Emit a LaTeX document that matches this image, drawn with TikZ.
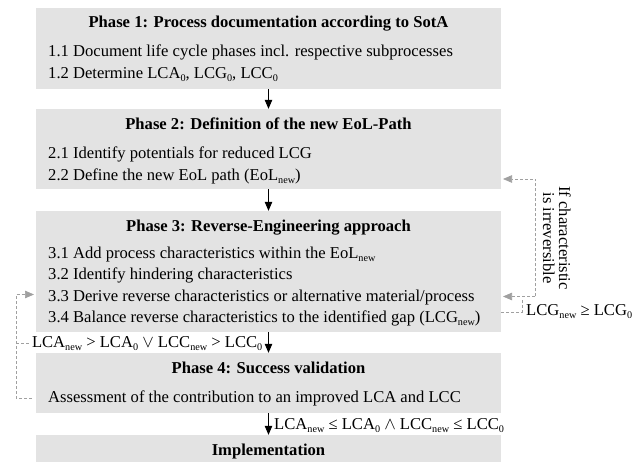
\documentclass[tikz,border=0pt]{standalone}
\usepackage{fontspec}
\setmainfont{Liberation Serif}
\usepackage{tikz}
\usetikzlibrary{arrows.meta}
\usepackage{xcolor}
\definecolor{phasegray}{RGB}{227,227,227}
\definecolor{backgray}{RGB}{160,160,160}
\newcommand{\diagfont}{\fontsize{16.6}{21.7}\selectfont}
\newcommand{\lowtext}[1]{\raisebox{-2.6pt}{\fontsize{10.2}{10.2}\selectfont #1}}
\newcommand{\sbn}{\lowtext{new}}
\newcommand{\sbz}{\lowtext{0}}

\begin{document}
\begin{tikzpicture}[
    x=1pt, y=-1pt,
    font=\diagfont,
    phasebox/.style={fill=phasegray, minimum width=465pt, minimum height=#1, inner sep=0pt},
    phasetitle/.style={anchor=base, inner sep=0pt, font=\diagfont\bfseries},
    task/.style={anchor=base west, inner sep=0pt},
    mainarrow/.style={-{Triangle[width=7.5pt,length=9pt]}, line width=0.8pt},
    backline/.style={backgray, dash pattern=on 3pt off 2pt, line width=0.7pt},
    backarrow/.style={backline, -{Triangle[width=7.5pt,length=9pt]}}
]
\useasboundingbox (0,0) rectangle (635,462);

\node[phasebox=81pt] (p1) at (268.5,48.5) {};
\node[phasebox=80pt] (p2) at (268.5,149) {};
\node[phasebox=121pt] (p3) at (268.5,271.5) {};
\node[phasebox=60pt] (p4) at (268.5,383) {};
\node[phasebox=27pt] (p5) at (268.5,448.5) {};

\node[phasetitle] (p1t) at (268.5,28) {Phase 1: Process documentation according to SotA};
\node[task] (t11) at (48,57) {1.1 Document life cycle phases incl. respective subprocesses};
\node[task] (t12) at (48,79) {1.2 Determine LCA\sbz, LCG\sbz, LCC\sbz};

\node[phasetitle] (p2t) at (268.5,129.5) {Phase 2: Definition of the new EoL-Path};
\node[task] (t21) at (48,159) {2.1 Identify potentials for reduced LCG};
\node[task] (t22) at (48,181) {2.2 Define the new EoL path (EoL\sbn)};

\node[phasetitle] (p3t) at (268.5,231.5) {Phase 3: Reverse-Engineering approach};
\node[task] (t31) at (48,258.5) {3.1 Add process characteristics within the EoL\sbn};
\node[task] (t32) at (48,280) {3.2 Identify hindering characteristics};
\node[task] (t33) at (48,301.5) {3.3 Derive reverse characteristics or alternative material/process};
\node[task] (t34) at (48,323) {3.4 Balance reverse characteristics to the identified gap (LCG\sbn)};

\node[phasetitle] (p4t) at (268.5,373.5) {Phase 4: Success validation};
\node[task] (t41) at (48,402.5) {Assessment of the contribution to an improved LCA and LCC};

\node[phasetitle] (p5t) at (268.5,456) {Implementation};

\draw[mainarrow] (p1) -- (p2);
\draw[mainarrow] (p2) -- (p3);
\draw[mainarrow] (p3) -- (p4);
\draw[mainarrow] (p4) -- (p5);

% conditions
\node[anchor=base east, inner sep=0pt] (fail) at (262.5,347.5)
    {LCA\sbn{} > LCA\sbz{} $\vee$ LCC\sbn{} > LCC\sbz};
\node[anchor=base west, inner sep=0pt] (pass) at (274,429.5)
    {LCA\sbn{} ≤ LCA\sbz{} $\wedge$ LCC\sbn{} ≤ LCC\sbz};
\node[anchor=base west, inner sep=0pt] (gap) at (526,316) {LCG\sbn{} ≥ LCG\sbz};
\node[rotate=-90, align=center, inner sep=0pt, font=\fontsize{16.6}{16}\selectfont] (irrev) at (557,238)
    {If characteristic\\is irreversible};

% feedback loops
\coordinate (lfoot) at (32,398);
\coordinate (lhead) at (34,294.5);
\draw[backarrow] (lfoot) -- (16,398) -- (16,294.5) -- (lhead);
\draw[backline] (16,343) -- ([xshift=-1pt]fail.west |- 0,343);

\coordinate (rtop) at (503,179);
\coordinate (rmid) at (503,296.5);
\draw[backarrow] (535,296.5) -- (535,179) -- (rtop);
\draw[backarrow] (535,296.5) -- (rmid);
\draw[backline] (p3.east |- 0,312) -- (522,312) -- (522,299.5);
\end{tikzpicture}
\end{document}
